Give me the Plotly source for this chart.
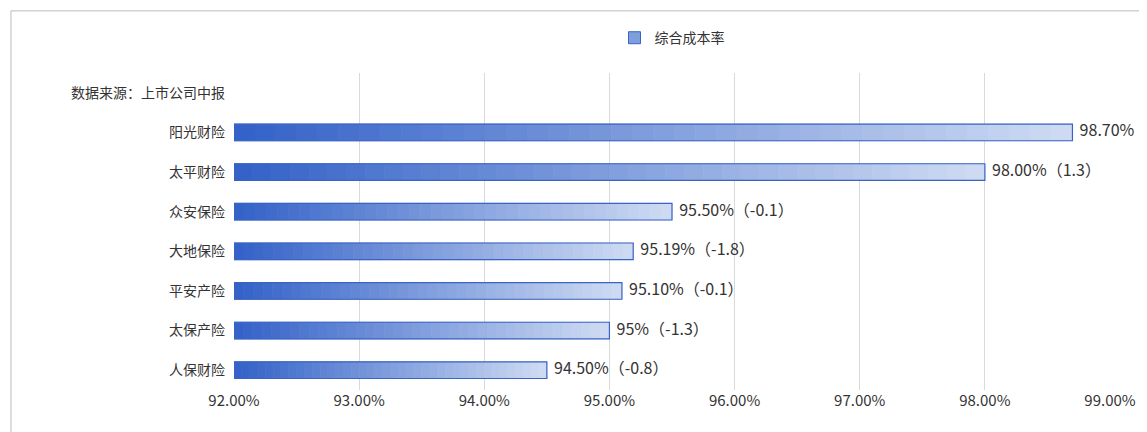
import plotly.graph_objects as go

categories = ["人保财险", "太保产险", "平安产险", "大地保险", "众安保险", "太平财险", "阳光财险"]
values = [94.50, 95.00, 95.10, 95.19, 95.50, 98.00, 98.70]
labels = ["94.50%（-0.8）", "95%（-1.3）", "95.10%（-0.1）", "95.19%（-1.8）",
          "95.50%（-0.1）", "98.00%（1.3）", "98.70%（-0.1）"]
source_label = "数据来源：上市公司中报"
x_ticks = [92, 93, 94, 95, 96, 97, 98, 99]
x_min = 92

ycats = categories + [source_label]
N = 40
c0 = (52, 98, 200)
c1 = (205, 218, 242)

fig = go.Figure()
for i in range(N):
    t = i / (N - 1)
    col = "rgb(%d,%d,%d)" % tuple(round(a + (b - a) * t) for a, b in zip(c0, c1))
    w = [(v - x_min) / N for v in values]
    fig.add_trace(go.Bar(y=categories, x=w, base=[x_min + i * wi for wi in w],
                         orientation="h", width=0.42, marker=dict(color=col, line=dict(color=col, width=0.8)),
                         showlegend=False, hoverinfo="skip"))
fig.add_trace(go.Bar(y=categories, x=[v - x_min for v in values], base=x_min, orientation="h",
                     width=0.42, marker=dict(color="rgba(0,0,0,0)", line=dict(color="#3a64c4", width=1.2)),
                     showlegend=False))
fig.add_trace(go.Bar(y=[None], x=[None], name="综合成本率",
                     marker=dict(color="#7f9fdc", line=dict(color="#3a64c4", width=1))))
fig.add_trace(go.Scatter(y=categories, x=values, mode="text", text=["  " + s for s in labels],
                         textposition="middle right", textfont=dict(size=16, color="#333"),
                         showlegend=False, cliponaxis=False))

fig.update_layout(
    width=1147, height=432, barmode="overlay", paper_bgcolor="white", plot_bgcolor="white",
    font=dict(family="Noto Sans CJK SC", size=14, color="#333"),
    margin=dict(l=226, r=45, t=65, b=50, autoexpand=False),
    legend=dict(orientation="h", x=0.5, xanchor="center", y=1.11, yanchor="middle",
                font=dict(size=14)),
    xaxis=dict(range=[92, 99.0], tickvals=x_ticks, ticktext=["%.2f%%" % v for v in x_ticks],
               showgrid=True, gridcolor="#d9d9d9", zeroline=False, tickfont=dict(size=15),
               showline=False, ticks="", automargin=False),
    yaxis=dict(categoryorder="array", categoryarray=ycats, range=[-0.5, 7.5], automargin=False,
               tickfont=dict(size=14), ticks="", ticklabelstandoff=8, showgrid=False),
    shapes=[dict(type="rect", xref="paper", yref="paper", x0=-0.2546, x1=1.048, y0=-0.148, y1=1.196,
                 line=dict(color="#bbbbbb", width=1), layer="below")],
)
fig.write_html("out.html")
